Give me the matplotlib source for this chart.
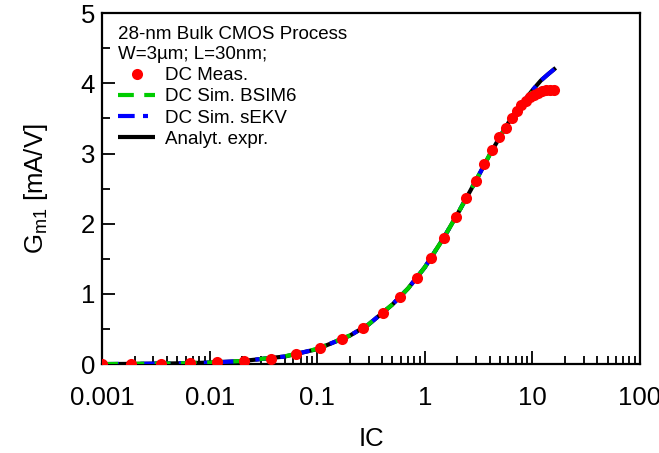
import numpy as np
import matplotlib
matplotlib.use("Agg")
import matplotlib.pyplot as plt

plt.rcParams['font.family'] = ['Liberation Sans', 'DejaVu Sans']
plt.rcParams['mathtext.fontset'] = 'custom'
plt.rcParams['mathtext.rm'] = 'Liberation Sans'
plt.rcParams['mathtext.it'] = 'Liberation Sans:italic'

# measured points (IC, Gm1 in mA/V)
ic_meas = [0.001, 0.00187, 0.0035, 0.0065, 0.0117, 0.0208, 0.037, 0.064, 0.107,
           0.171, 0.268, 0.405, 0.592, 0.839, 1.14, 1.51, 1.94, 2.43, 2.97, 3.57,
           4.25, 4.93, 5.65, 6.42, 7.19, 7.90, 8.66, 9.44, 10.3, 11.3, 12.4, 13.5,
           14.7, 15.9]
gm_meas = [0.002, 0.004, 0.008, 0.015, 0.027, 0.046, 0.079, 0.139, 0.233,
           0.353, 0.519, 0.724, 0.961, 1.233, 1.514, 1.804, 2.096, 2.367, 2.61, 2.856,
           3.05, 3.23, 3.37, 3.50, 3.60, 3.69, 3.75, 3.80, 3.83, 3.86, 3.89, 3.91,
           3.91, 3.90]

# simulated / analytical curves
ic_line = [0.001, 0.002, 0.005, 0.01, 0.02, 0.05, 0.1, 0.2, 0.3, 0.5, 0.7, 1, 1.5,
           2, 3, 4, 5, 6, 7, 8, 10, 12, 14, 16.5]
gm_analyt = [0.002, 0.0047, 0.012, 0.023, 0.045, 0.11, 0.215, 0.405, 0.565, 0.85,
             1.08, 1.38, 1.80, 2.13, 2.62, 2.98, 3.24, 3.44, 3.59, 3.71, 3.90, 4.04,
             4.13, 4.22]
gm_sekv = [0.002, 0.0047, 0.012, 0.023, 0.045, 0.11, 0.216, 0.406, 0.566, 0.852,
           1.08, 1.38, 1.80, 2.13, 2.62, 2.98, 3.24, 3.44, 3.59, 3.71, 3.90, 4.04,
           4.13, 4.22]
ic_bsim = ic_line[:21]
gm_bsim = [0.002, 0.0047, 0.012, 0.023, 0.046, 0.112, 0.218, 0.408, 0.567, 0.852,
           1.08, 1.38, 1.80, 2.13, 2.62, 2.98, 3.24, 3.43, 3.58, 3.70, 3.88]

fig = plt.figure(figsize=(6.59, 4.53), dpi=100)
ax = fig.add_axes([0.155, 0.196, 0.816, 0.775])

ax.plot(ic_line, gm_analyt, color='black', lw=3, solid_capstyle='butt', zorder=2,
        label='Analyt. expr.')
ax.plot(ic_line, gm_sekv, color='#0000ff', lw=3, dashes=(4, 2, 1.2, 2), zorder=3,
        label='DC Sim. sEKV')
ax.plot(ic_bsim, gm_bsim, color='#00cc00', lw=3, dashes=(3.8, 2.5), zorder=4,
        label='DC Sim. BSIM6')
ax.plot(ic_meas, gm_meas, 'o', color='#ff0000', ms=8, mew=0, zorder=5,
        label='DC Meas.')

ax.set_xscale('log')
ax.set_xlim(0.001, 100)
ax.set_ylim(0, 5)
ax.set_yticks([0, 1, 2, 3, 4, 5])
ax.set_yticks([0.5, 1.5, 2.5, 3.5, 4.5], minor=True)
ax.set_xticks([0.001, 0.01, 0.1, 1, 10, 100])
ax.set_xticklabels(['0.001', '0.01', '0.1', '1', '10', '100'])

ax.tick_params(which='both', direction='in', top=False, right=False, width=1.3,
               labelsize=18.5)
ax.tick_params(axis='x', which='major', length=9.5, pad=16)
ax.tick_params(axis='y', which='major', length=9.5, pad=5)
ax.tick_params(which='minor', length=5.5)
for s in ax.spines.values():
    s.set_linewidth(1.6)

ax.set_xlabel('IC', fontsize=18.5, labelpad=12)
ax.set_ylabel('G$_{\\mathrm{m1}}$ [mA/V]', fontsize=18.5, labelpad=22)

h, l = ax.get_legend_handles_labels()
order = [3, 2, 1, 0]
leg = ax.legend([h[i] for i in order], [l[i] for i in order],
                title='28-nm Bulk CMOS Process\nW=3µm; L=30nm;',
                title_fontsize=13.5, fontsize=13.5, loc='upper left',
                bbox_to_anchor=(0.005, 1.0), frameon=False, alignment='left',
                handlelength=2.0, handletextpad=0.5, labelspacing=0.22,
                borderpad=0.2)

fig.savefig('out.png', dpi=100)
